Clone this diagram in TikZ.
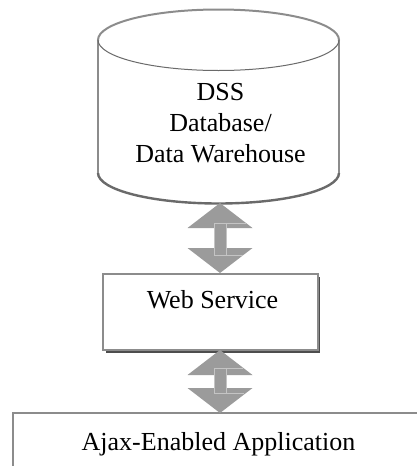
\documentclass[tikz,border=0pt]{standalone}
\usepackage{fontspec}
\setmainfont{Liberation Serif}
\begin{document}
\definecolor{arrowgray}{HTML}{9B9B9B}
\definecolor{linegray}{HTML}{C4C4C4}
\definecolor{edgegray}{HTML}{8C8C8C}
\definecolor{darkedge}{HTML}{6A6A6A}
\definecolor{shadowgray}{HTML}{4D4D4D}
\begin{tikzpicture}[x=1pt,y=-1pt,
  txt/.style={font=\fontsize{26}{31}\selectfont, inner sep=0pt, anchor=base},
  arrowfill/.style={fill=arrowgray, draw=none},
  seam/.style={draw=linegray, line width=0.6pt}]
\useasboundingbox (0,0) rectangle (416,466);

% ---------- cylinder (DSS database) ----------
\fill[white] (218.5,173) ellipse [x radius=120.5, y radius=30.5];
\fill[white] (98,40) rectangle (339,173);
\draw[edgegray, line width=2pt] (98,40) -- (98,173);
\draw[edgegray, line width=2pt] (339,40) -- (339,173);
\begin{scope}
  \clip (80,173) rectangle (360,215);
  \draw[darkedge, line width=2.4pt] (218.5,173) ellipse [x radius=120.5, y radius=30.5];
\end{scope}
\begin{scope}
  \clip (80,0) rectangle (360,40);
  \draw[edgegray, line width=2pt] (218.5,40) ellipse [x radius=120.5, y radius=30.5];
\end{scope}
\begin{scope}
  \clip (80,40) rectangle (360,80);
  \draw[darkedge, line width=1pt] (218.5,40) ellipse [x radius=120.5, y radius=30.5];
\end{scope}
\coordinate (db) at (220,203);
\node[txt] (dss1) at (220.5,100) {DSS};
\node[txt] (dss2) at (220.5,131) {Database/};
\node[txt] (dss3) at (220.5,162) {Data Warehouse};

% ---------- Web Service box ----------
\fill[shadowgray] (106,277) rectangle (320,352.5);
\node[draw=edgegray, line width=2pt, fill=white, minimum width=215pt,
      minimum height=76pt, inner sep=0pt, outer sep=0pt] (ws) at (210.5,312) {};
\node[txt] (wst) at (212.5,308) {Web Service};

% ---------- Ajax application box ----------
\node[draw=edgegray, line width=2pt, fill=white, minimum width=420pt,
      minimum height=70pt, inner sep=0pt, outer sep=0pt] (app) at (223,448) {};
\node[txt] (appt) at (218.5,450) {Ajax-Enabled Application};

% ---------- double arrows ----------
% arrow 1: database <-> web service
\fill[arrowfill] (214,223) rectangle (227,255);
\fill[arrowfill] (db) -- (252.5,228) -- (187.5,228) -- cycle;
\fill[arrowfill] (220,273) -- (252.5,248) -- (187.5,248) -- cycle;
\draw[seam] (214,223) -- (214,255);
\draw[seam] (226,223) -- (226,255);
\draw[seam] (214,223) -- (246,223);
\draw[seam] (214,255) -- (243,255);

% arrow 2: web service <-> application
\fill[arrowfill] (214,368) rectangle (227,393);
\fill[arrowfill] (220,350) -- (252.5,375) -- (187.5,375) -- cycle;
\fill[arrowfill] (220,413) -- (252.5,388) -- (187.5,388) -- cycle;
\draw[seam] (214,368) -- (214,393);
\draw[seam] (226,368) -- (226,393);
\draw[seam] (214,368) -- (243,368);
\draw[seam] (214,393) -- (244,393);
\end{tikzpicture}
\end{document}
